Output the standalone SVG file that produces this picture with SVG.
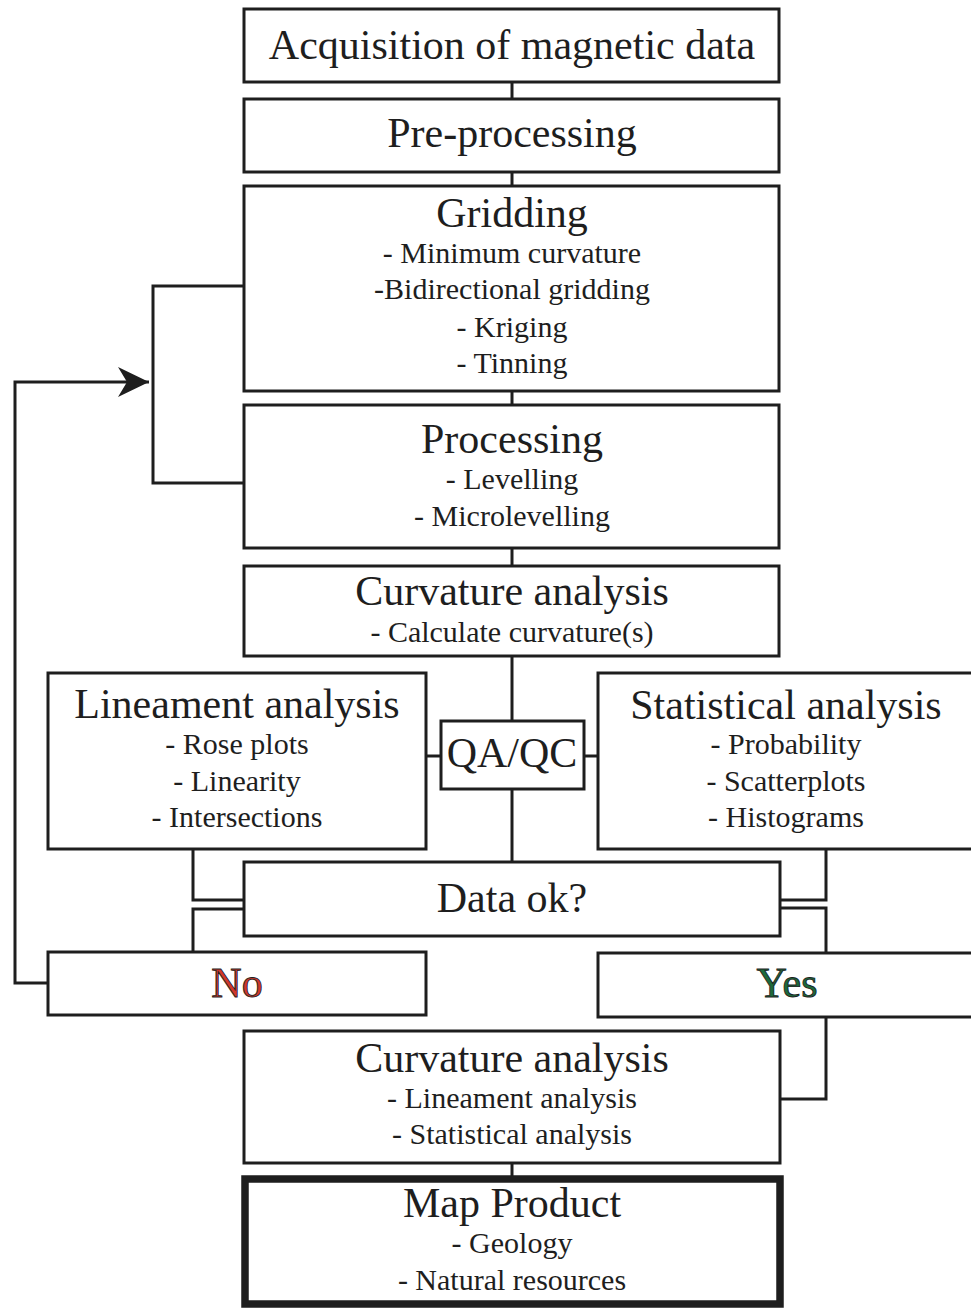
<svg xmlns="http://www.w3.org/2000/svg" width="971" height="1309" viewBox="0 0 971 1309">
<style>
.box{fill:#fff;stroke:#1e1e1e;stroke-width:3}
.thick{fill:#fff;stroke:#1e1e1e;stroke-width:7.5}
.ln{fill:none;stroke:#1e1e1e;stroke-width:3}
text{font-family:"Liberation Serif","Times New Roman",serif;fill:#1e1e1e;text-anchor:middle}
.t{font-size:42px}
.s{font-size:30px}
.no{fill:#d2382a;stroke:#1e1e1e;stroke-width:0.9}
.yes{fill:#1c6a3c;stroke:#1e1e1e;stroke-width:0.9}
</style>
<defs>
<marker id="arr" viewBox="0 0 31 30" refX="31" refY="15" markerWidth="31" markerHeight="30" markerUnits="userSpaceOnUse" orient="auto">
<path d="M0,0 L31,15 L0,30 L9,15 Z" fill="#1e1e1e"/>
</marker>
</defs>
<rect width="971" height="1309" fill="#fff"/>
<g id="connectors">
<line class="ln" x1="512" y1="82" x2="512" y2="99"/>
<line class="ln" x1="512" y1="172" x2="512" y2="186"/>
<line class="ln" x1="512" y1="391" x2="512" y2="405"/>
<line class="ln" x1="512" y1="548" x2="512" y2="566"/>
<line class="ln" x1="512" y1="656" x2="512" y2="721"/>
<line class="ln" x1="512" y1="789" x2="512" y2="862"/>
<line class="ln" x1="512" y1="1163" x2="512" y2="1176"/>
<polyline class="ln" points="244,286 153,286 153,483 244,483"/>
<polyline class="ln" points="48,983 15,983 15,382 149,382" marker-end="url(#arr)"/>
<line class="ln" x1="426" y1="756" x2="441" y2="756"/>
<line class="ln" x1="584" y1="756" x2="598" y2="756"/>
<polyline class="ln" points="193,849 193,900 244,900"/>
<polyline class="ln" points="244,909 193,909 193,952"/>
<polyline class="ln" points="826,849 826,900 780,900"/>
<polyline class="ln" points="780,908 826,908 826,953"/>
<polyline class="ln" points="826,1017 826,1099 780,1099"/>
</g>
<g id="acquisition">
<rect class="box" x="244" y="9" width="535" height="73"/>
<text class="t" x="512" y="59">Acquisition of magnetic data</text>
</g>
<g id="preprocessing">
<rect class="box" x="244" y="99" width="535" height="73"/>
<text class="t" x="512" y="147">Pre-processing</text>
</g>
<g id="gridding">
<rect class="box" x="244" y="186" width="535" height="205"/>
<text class="t" x="512" y="227">Gridding</text>
<text class="s" x="512" y="263">- Minimum curvature</text>
<text class="s" x="512" y="299">-Bidirectional gridding</text>
<text class="s" x="512" y="337">- Kriging</text>
<text class="s" x="512" y="373">- Tinning</text>
</g>
<g id="processing">
<rect class="box" x="244" y="405" width="535" height="143"/>
<text class="t" x="512" y="453">Processing</text>
<text class="s" x="512" y="489">- Levelling</text>
<text class="s" x="512" y="526">- Microlevelling</text>
</g>
<g id="curvature1">
<rect class="box" x="244" y="566" width="535" height="90"/>
<text class="t" x="512" y="605">Curvature analysis</text>
<text class="s" x="512" y="642">- Calculate curvature(s)</text>
</g>
<g id="lineament">
<rect class="box" x="48" y="673" width="378" height="176"/>
<text class="t" x="237" y="718">Lineament analysis</text>
<text class="s" x="237" y="754">- Rose plots</text>
<text class="s" x="237" y="791">- Linearity</text>
<text class="s" x="237" y="827">- Intersections</text>
</g>
<g id="qaqc">
<rect class="box" x="441" y="721" width="143" height="68"/>
<text class="t" x="512" y="767">QA/QC</text>
</g>
<g id="statistical">
<rect class="box" x="598" y="673" width="390" height="176"/>
<text class="t" x="786" y="719">Statistical analysis</text>
<text class="s" x="786" y="754">- Probability</text>
<text class="s" x="786" y="791">- Scatterplots</text>
<text class="s" x="786" y="827">- Histograms</text>
</g>
<g id="dataok">
<rect class="box" x="244" y="862" width="536" height="74"/>
<text class="t" x="512" y="912">Data ok?</text>
</g>
<g id="no">
<rect class="box" x="48" y="952" width="378" height="63"/>
<text class="t no" x="237" y="997">No</text>
</g>
<g id="yes">
<rect class="box" x="598" y="953" width="390" height="64"/>
<text class="t yes" x="787" y="997">Yes</text>
</g>
<g id="curvature2">
<rect class="box" x="244" y="1031" width="536" height="132"/>
<text class="t" x="512" y="1072">Curvature analysis</text>
<text class="s" x="512" y="1108">- Lineament analysis</text>
<text class="s" x="512" y="1144">- Statistical analysis</text>
</g>
<g id="mapproduct">
<rect class="thick" x="245" y="1179" width="535" height="125"/>
<text class="t" x="512" y="1217">Map Product</text>
<text class="s" x="512" y="1253">- Geology</text>
<text class="s" x="512" y="1290">- Natural resources</text>
</g>
</svg>
